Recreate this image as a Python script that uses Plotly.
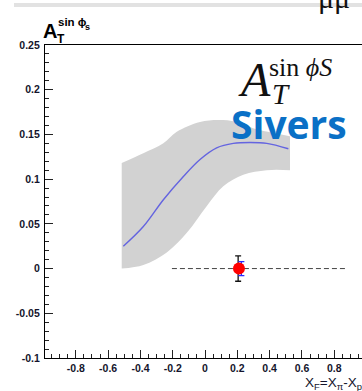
import plotly.graph_objects as go

# ---- data -------------------------------------------------------------
# prediction band (upper / lower edges)
band_x_upper = [-0.516, -0.382, -0.258, -0.175, -0.031, 0.111, 0.217, 0.297, 0.444, 0.526]
band_y_upper = [0.118, 0.129, 0.140, 0.153, 0.164, 0.166, 0.163, 0.157, 0.151, 0.148]
band_x_lower = [-0.516, -0.382, -0.237, -0.113, 0.011, 0.113, 0.237, 0.382, 0.526]
band_y_lower = [0.000, 0.004, 0.018, 0.040, 0.070, 0.092, 0.105, 0.110, 0.110]

# central curve
curve_x = [-0.506, -0.382, -0.258, -0.134, -0.031, 0.072, 0.175, 0.279, 0.382, 0.516]
curve_y = [0.025, 0.047, 0.077, 0.103, 0.122, 0.135, 0.140, 0.141, 0.140, 0.134]

# projected measurement
point_x = [0.21]
point_y = [0.0]
err_total = [0.0142]
err_stat = [0.0078]
stat_x = [0.225]
total_x = [0.205]

# zero reference line
zero_x = [-0.205, 0.87]
zero_y = [0.0, 0.0]

x_ticks = [-0.8, -0.6, -0.4, -0.2, 0, 0.2, 0.4, 0.6, 0.8]
x_ticklabels = ["-0.8", "-0.6", "-0.4", "-0.2", "0", "0.2", "0.4", "0.6", "0.8"]
y_ticks = [-0.1, -0.05, 0, 0.05, 0.1, 0.15, 0.2, 0.25]
y_ticklabels = ["-0.1", "-0.05", "0", "0.05", "0.1", "0.15", "0.2", "0.25"]

# ---- geometry helpers ---------------------------------------------------
W, H = 362, 391
ML, MR, MT, MB = 45, 0, 45, 33
PW, PH = W - ML - MR, H - MT - MB


def px(x):
    return (x - ML) / PW


def py(y):
    return (H - MB - y) / PH


fig = go.Figure()

# band: lower edge first, then upper edge filled down to it
fig.add_trace(go.Scatter(x=band_x_lower, y=band_y_lower, mode="lines", line_shape="spline",
                         line=dict(width=0, color="#d2d2d2"), hoverinfo="skip",
                         showlegend=False))
fig.add_trace(go.Scatter(x=band_x_upper, y=band_y_upper, mode="lines", line_shape="spline",
                         fill="tonexty", fillcolor="#d2d2d2",
                         line=dict(width=0, color="#d2d2d2"), hoverinfo="skip",
                         showlegend=False))

fig.add_trace(go.Scatter(x=curve_x, y=curve_y, mode="lines", line_shape="spline",
                         line=dict(color="#6464e0", width=1.4), showlegend=False))

fig.add_trace(go.Scatter(x=zero_x, y=zero_y, mode="lines",
                         line=dict(color="#444444", width=1, dash="5px,3px"),
                         showlegend=False))

fig.add_trace(go.Scatter(x=total_x, y=point_y, mode="markers",
                         marker=dict(size=1, color="rgba(0,0,0,0)"),
                         error_y=dict(type="data", array=err_total, color="#111111",
                                      thickness=1.3, width=3),
                         showlegend=False))
fig.add_trace(go.Scatter(x=stat_x, y=point_y, mode="markers",
                         marker=dict(size=1, color="rgba(0,0,0,0)"),
                         error_y=dict(type="data", array=err_stat, color="#2a2aff",
                                      thickness=1.3, width=3),
                         showlegend=False))
fig.add_trace(go.Scatter(x=point_x, y=point_y, mode="markers",
                         marker=dict(size=12, color="#ff0000", line=dict(width=0)),
                         showlegend=False))

tickfont = dict(family="Liberation Sans, Arial, sans-serif", size=10.5,
                color="#14142c", weight="bold")

fig.update_layout(
    width=W, height=H,
    margin=dict(l=ML, r=MR, t=MT, b=MB),
    paper_bgcolor="white", plot_bgcolor="white",
    xaxis=dict(range=[-0.991, 0.972], tickvals=x_ticks, ticktext=x_ticklabels,
               ticks="inside", ticklen=8, tickwidth=1, tickcolor="#222",
               minor=dict(dtick=0.05, tick0=0, ticks="inside", ticklen=4,
                          tickcolor="#222", showgrid=False),
               showline=True, linecolor="#000", linewidth=1.3, mirror=True,
               showgrid=False, zeroline=False, tickfont=tickfont),
    yaxis=dict(range=[-0.1, 0.25], tickvals=y_ticks, ticktext=y_ticklabels,
               ticks="inside", ticklen=8, tickwidth=1, tickcolor="#222",
               minor=dict(dtick=0.01, tick0=0, ticks="inside", ticklen=4,
                          tickcolor="#222", showgrid=False),
               showline=True, linecolor="#000", linewidth=1.3,
               showgrid=False, zeroline=False, tickfont=tickfont,
               ticklabelstandoff=2),
)

# thin grey rule along the top of the page
fig.add_shape(type="rect", xref="paper", yref="paper",
              x0=px(14), x1=px(W), y0=py(7), y1=py(3),
              fillcolor="#e2e2e2", line=dict(width=0), layer="above")

ann = []
# axis title A_T^{sin phi_s}
ann.append(dict(text="<b>A</b>", x=px(41), y=py(31), xanchor="left", yanchor="middle",
                font=dict(family="Liberation Sans, Arial", size=20, color="#000")))
ann.append(dict(text="<b>T</b>", x=px(55), y=py(39), xanchor="left", yanchor="middle",
                font=dict(family="Liberation Sans, Arial", size=12, color="#000")))
ann.append(dict(text="<b>sin ϕ</b>", x=px(56), y=py(22), xanchor="left", yanchor="middle",
                font=dict(family="Liberation Sans, Arial", size=11.5, color="#000")))
ann.append(dict(text="<b>s</b>", x=px(83), y=py(27), xanchor="left", yanchor="middle",
                font=dict(family="Liberation Sans, Arial", size=9, color="#000")))

# x axis title
ann.append(dict(text="X<sub>F</sub>=X<sub>π</sub>-X<sub>p</sub>", x=px(303), y=py(383),
                xanchor="left", yanchor="middle",
                font=dict(family="Liberation Sans, Arial", size=13.5, color="#14142c")))

# cut-off heading at top right
ann.append(dict(text="μμ", x=px(316), y=py(-3), xanchor="left", yanchor="middle",
                font=dict(family="Liberation Serif, serif", size=30, color="#111")))

# large formula label
ann.append(dict(text="<i>A</i>", x=px(236), y=py(79), xanchor="left", yanchor="middle",
                font=dict(family="Liberation Serif, serif", size=48, color="#111")))
ann.append(dict(text="<i>T</i>", x=px(270), y=py(94), xanchor="left", yanchor="middle",
                font=dict(family="Liberation Serif, serif", size=29, color="#111")))
ann.append(dict(text="sin <i>ϕS</i>", x=px(267), y=py(67), xanchor="left", yanchor="middle",
                font=dict(family="Liberation Serif, serif", size=26, color="#111")))

ann.append(dict(text="<b>Sivers</b>", x=px(229), y=py(123), xanchor="left", yanchor="middle",
                font=dict(family="Open Sans, Noto Sans, sans-serif", size=39, color="#0a70c6")))

for a in ann:
    a.update(xref="paper", yref="paper", showarrow=False)
fig.update_layout(annotations=ann)

fig.write_html("out.html")
